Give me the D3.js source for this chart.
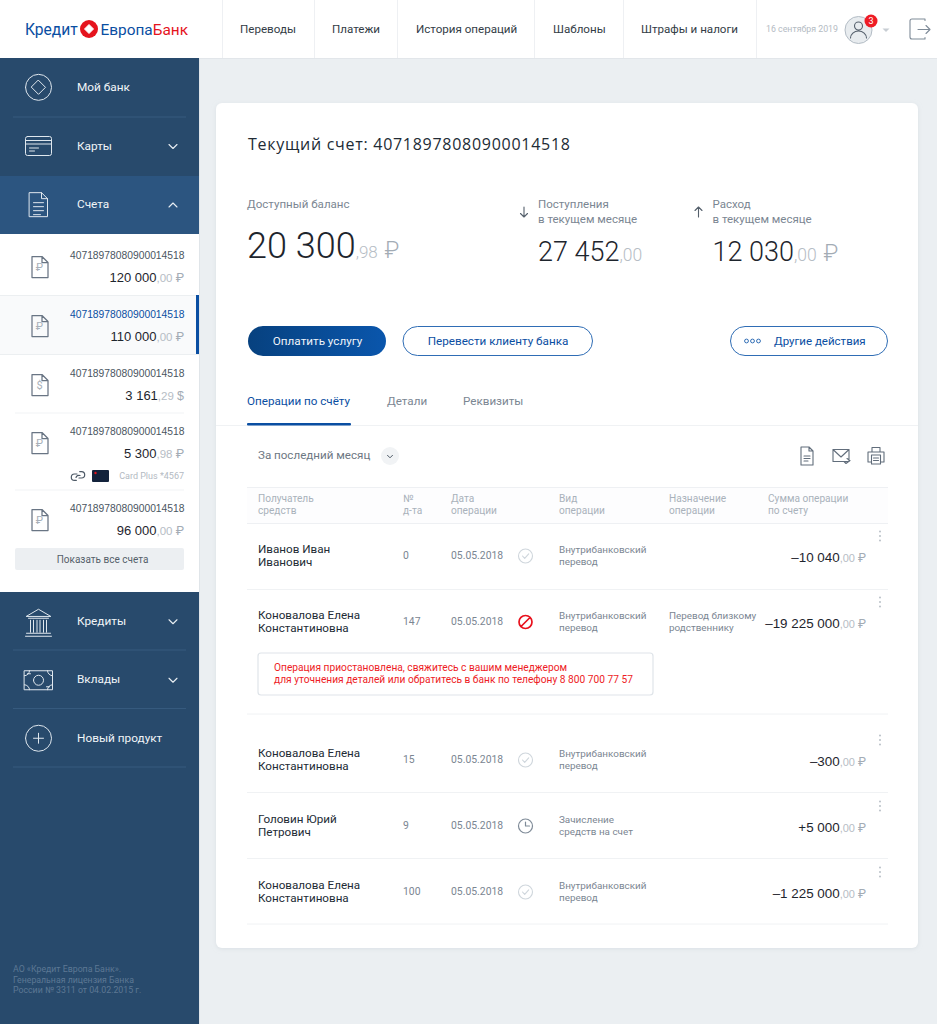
<!DOCTYPE html>
<html lang="ru">
<head>
<meta charset="utf-8">
<title>Кредит Европа Банк</title>
<script src="https://cdn.jsdelivr.net/npm/d3@7"></script>
<style>
  html, body { margin: 0; padding: 0; background: #ebeff2; overflow: hidden; }
  svg { display: block; font-family: Roboto, "Liberation Sans", sans-serif; }
  .num { font-family: "Liberation Sans", Roboto, sans-serif; }
  .big { font-family: Roboto, "Liberation Sans", sans-serif; font-weight: 300; }
</style>
</head>
<body>
<div id="page"></div>
<script>
// Data
const navItems = ["Переводы", "Платежи", "История операций", "Шаблоны", "Штрафы и налоги"];
const menuTop = ["Мой банк", "Карты", "Счета"];
const menuBottom = ["Кредиты", "Вклады", "Новый продукт"];
const accountNumbers = ["40718978080900014518", "40718978080900014518", "40718978080900014518", "40718978080900014518", "40718978080900014518"];
const accountBalances = [120000.00, 110000.00, 3161.29, 5300.98, 96000.00];
const accountCurrency = ["₽", "₽", "$", "₽", "₽"];
const summaryLabels = [["Поступления", "в текущем месяце"], ["Расход", "в текущем месяце"]];
const summaryValues = [27452.00, 12030.00];
const summaryCurrency = ["", "₽"];
const tabs = ["Операции по счёту", "Детали", "Реквизиты"];
const headerCols = [["Получатель", "средств"], ["№", "д-та"], ["Дата", "операции"], ["Вид", "операции"], ["Назначение", "операции"], ["Сумма операции", "по счету"]];
const opNames = [["Иванов Иван", "Иванович"], ["Коновалова Елена", "Константиновна"], ["Коновалова Елена", "Константиновна"], ["Головин Юрий", "Петрович"], ["Коновалова Елена", "Константиновна"]];
const opDocs = [0, 147, 15, 9, 100];
const opDates = ["05.05.2018", "05.05.2018", "05.05.2018", "05.05.2018", "05.05.2018"];
const opStatus = ["done", "blocked", "done", "pending", "done"];
const opTypes = [["Внутрибанковский", "перевод"], ["Внутрибанковский", "перевод"], ["Внутрибанковский", "перевод"], ["Зачисление", "средств на счет"], ["Внутрибанковский", "перевод"]];
const opPurpose = [[], ["Перевод близкому", "родственнику"], [], [], []];
const opAmounts = [-10040.00, -19225000.00, -300.00, 5000.00, -1225000.00];
const alertLines = ["Операция приостановлена, свяжитесь с вашим менеджером", "для уточнения деталей или обратитесь в банк по телефону 8 800 700 77 57"];
const footerLines = ["АО «Кредит Европа Банк».", "Генеральная лицензия Банка", "России № 3311 от 04.02.2015 г."];

const W = 937, H = 1024;
const COL = { ink: "#222b35", grey: "#7b8692", light: "#a9b2bb", line: "#eef1f3", blue: "#0a4ea2", navy: "#284a6c", navyHi: "#2c5580", icon: "#6c7887", sideLine: "#365a7e" };

const ru = d3.formatLocale({ decimal: ",", thousands: " ", grouping: [3], currency: ["", ""] });
const fmtWhole = ru.format(",d");
const cents = v => d3.format("02d")(Math.round(Math.abs(v) * 100) % 100);

const svg = d3.select("#page").append("svg").attr("width", W).attr("height", H).attr("viewBox", `0 0 ${W} ${H}`);

const defs = svg.append("defs");
const grad = defs.append("linearGradient").attr("id", "btn");
grad.append("stop").attr("offset", "0").attr("stop-color", "#07417f");
grad.append("stop").attr("offset", "1").attr("stop-color", "#0a56ac");
const shadow = defs.append("filter").attr("id", "soft").attr("x", "-5%").attr("y", "-5%").attr("width", "110%").attr("height", "110%");
shadow.append("feDropShadow").attr("dx", 0).attr("dy", 1).attr("stdDeviation", 2).attr("flood-color", "#c9d1d8").attr("flood-opacity", 0.5);

// helpers
function label(g, x, y, str, size, fill, anchor) {
  return g.append("text").attr("x", x).attr("y", y - 0.7).attr("font-size", size).attr("fill", fill)
    .attr("text-anchor", anchor || "start").attr("dominant-baseline", "central").text(str);
}
function lines2(g, x, y, arr, gap, size, fill) {
  arr.forEach((s, i) => label(g, x, y + (i - (arr.length - 1) / 2) * gap, s, size, fill));
}
function hline(g, x1, x2, y, color, w) {
  g.append("line").attr("x1", x1).attr("x2", x2).attr("y1", y).attr("y2", y).attr("stroke", color).attr("stroke-width", w || 1);
}
function rect(g, x, y, w, h, fill, r) {
  return g.append("rect").attr("x", x).attr("y", y).attr("width", w).attr("height", h).attr("fill", fill).attr("rx", r || 0);
}
// outline icon drawn in a local box centred on cx, cy
function icon(g, cx, cy, d, color, w) {
  return g.append("g").attr("transform", `translate(${cx},${cy})`).append("path").attr("d", d)
    .attr("fill", "none").attr("stroke", color).attr("stroke-width", w || 1).attr("stroke-linecap", "round").attr("stroke-linejoin", "round");
}
function money(g, x, y, value, currency, sizes, anchor, sign) {
  const t = g.append("text").attr("class", sizes[0] >= 20 ? "big" : "num").attr("x", x).attr("y", y).attr("text-anchor", anchor || "end");
  t.append("tspan").attr("font-size", sizes[0]).attr("fill", "#1e252d").text((sign || "") + fmtWhole(Math.floor(Math.abs(value))));
  t.append("tspan").attr("font-size", sizes[1]).attr("fill", "#b6bdc5").text("," + cents(value) + " ");
  t.append("tspan").attr("font-size", sizes[2]).attr("fill", "#a3acb5").attr("dx", sizes[0] >= 20 ? 2.5 : 0).text(currency);
  return t;
}
const chevron = (g, x, y, up) => icon(g, x, y, up ? "M-4,2L0,-2L4,2" : "M-4,-2L0,2L4,-2", "#e8eef3", 1.1);

const ICONS = {
  diamond: "M-13,0a13,13 0 1,0 26,0a13,13 0 1,0 -26,0M0,-7L7,0L0,7L-7,0Z",
  card: "M-11,-9.5h22a2,2 0 0,1 2,2v15a2,2 0 0,1 -2,2h-22a2,2 0 0,1 -2,-2v-15a2,2 0 0,1 2,-2ZM-13,-5.5h26M-13,-2h26M-9,2h9M-9,5h5",
  doc: "M-9,-12h12l6,6v18h-18ZM3,-12v6h6M-5,-2h10M-5,2h10M-5,6h10M-5,10h7",
  bank: "M-12,-5L0,-12L12,-5ZM-10,-3h20M-8,-1v12M-5,-1v12M-1.5,-1v12M1.5,-1v12M5,-1v12M8,-1v12M-12,12h24M-13,15h26",
  money: "M-14,-9h28v19h-28ZM-9,-9a5,5 0 0,1 -5,5M9,-9a5,5 0 0,0 5,5M-9,10a5,5 0 0,0 -5,-5M9,10a5,5 0 0,1 5,-5M-5,0.5a5,5 0 1,0 10,0a5,5 0 1,0 -10,0M-11,-6h3M8,7h3",
  plus: "M-13,0a13,13 0 1,0 26,0a13,13 0 1,0 -26,0M-5,0h10M0,-5v10",
  file: "M-8,-10.5h10l6,6v15h-16ZM2,-10.5v6h6",
  fileDoc: "M-6,-9h8l4,4v14h-12ZM2,-9v4h4M-3,0h6M-3,2.5h6M-3,5h4",
  mail: "M-8,-6.5h16v12h-16ZM-8,-6.5L0,1L8,-6.5M3,5.5l2,2l4,-3l-3,-2",
  print: "M-4,-4v-4.5h8v4.5M-8,-4h16v10h-3M-8,-4v10h3M-4.5,-1h9v9h-9ZM-2.5,2h5M-2.5,4.5h5",
  link: "M-1,-2h-2.5a3.2,3.2 0 0,0 0,6.4h1.8M1,2h2.5a3.2,3.2 0 0,0 0,-6.4h-1.8M-2,1.5a3,3 0 0,1 4,-2",
  logout: "M7,-9v-1.5h-13a2,2 0 0,0 -2,2v16a2,2 0 0,0 2,2h13v-1.5M0,0h12M8,-4l4,4l-4,4",
  down: "M0,-5v10M-3.5,1.5L0,5L3.5,1.5",
  up: "M0,5v-10M-3.5,-1.5L0,-5L3.5,-1.5",
  done: "M-7,0a7,7 0 1,0 14,0a7,7 0 1,0 -14,0M-3,0l2.2,2.4l4,-4.6",
  pending: "M-7,0a7,7 0 1,0 14,0a7,7 0 1,0 -14,0M0,-4v4h4",
  blocked: "M-6.5,0a6.5,6.5 0 1,0 13,0a6.5,6.5 0 1,0 -13,0M-4.5,4.5L4.5,-4.5"
};

// -------- header --------
const head = svg.append("g");
rect(head, 0, 0, W, 58, "#fff");
hline(head, 0, W, 58.5, "#e2e6ea");
const logoT = head.append("text").attr("x", 25).attr("y", 35).attr("font-size", 15.6).attr("font-family", "Roboto");
logoT.append("tspan").attr("fill", "#0a4ea2").text("Кредит");
head.append("circle").attr("cx", 89).attr("cy", 29).attr("r", 9).attr("fill", "#e5131d");
head.append("path").attr("d", "M89,24.5L93.5,29L89,33.5L84.5,29Z").attr("fill", "#fff").attr("stroke", "#fff").attr("stroke-linejoin", "round");
const logoT2 = head.append("text").attr("x", 100.5).attr("y", 35).attr("font-size", 15.4);
logoT2.append("tspan").attr("fill", "#0a4ea2").text("Европа");
logoT2.append("tspan").attr("fill", "#e5131d").text("Банк");

const navX = d3.scaleOrdinal().domain(navItems).range([240, 332, 416, 553, 641]);
const navSep = [222, 314, 397, 534, 623, 756];
head.selectAll(".sep").data(navSep).join("line").attr("class", "sep")
  .attr("x1", d => d + 0.5).attr("x2", d => d + 0.5).attr("y1", 0).attr("y2", 58).attr("stroke", "#eef0f3");
head.selectAll(".nav").data(navItems).join("text").attr("class", "nav")
  .attr("x", d => navX(d)).attr("y", 28.5).attr("dominant-baseline", "central")
  .attr("font-size", 11.6).attr("fill", "#333c46").text(d => d);
label(head, 766, 30, "16 сентября 2019", 8.8, "#b4bbc3");
head.append("circle").attr("cx", 858.5).attr("cy", 30).attr("r", 13.5).attr("fill", "#e8ecef").attr("stroke", "#b3bcc5");
icon(head, 858.5, 30, "M-4,-4a4,4 0 1,0 8,0a4,4 0 1,0 -8,0M-8,8a8,7 0 0,1 16,0", "#56616d", 1.1);
head.append("circle").attr("cx", 871).attr("cy", 21).attr("r", 6.5).attr("fill", "#ee1c25");
label(head, 871, 21.7, "3", 9, "#fff", "middle");
head.append("path").attr("d", "M882.5,28.5h7l-3.5,3.5Z").attr("fill", "#c7cdd3");
icon(head, 918, 29.5, ICONS.logout, "#7f8b98", 1.1);

// -------- sidebar --------
const side = svg.append("g");
rect(side, 0, 58, 199, H - 58, COL.navy);
rect(side, 0, 176, 199, 58, COL.navyHi);
const topY = d3.scaleBand().domain(menuTop).range([58, 234]);
const topIcon = [ICONS.diamond, ICONS.card, ICONS.doc];
menuTop.forEach((m, i) => {
  const y = topY(m) + topY.bandwidth() / 2 + 0.5;
  icon(side, 38.5, y - 0.5, topIcon[i], "#dfe7ee", 1);
  label(side, 77, y, m, 11.8, "#f1f5f8");
});
chevron(side, 173, 146.5, false);
chevron(side, 173, 205, true);
hline(side, 13, 186, 117, COL.sideLine);

const bottomY = d3.scaleBand().domain(menuBottom).range([592, 767.5]);
const bottomIcon = [ICONS.bank, ICONS.money, ICONS.plus];
menuBottom.forEach((m, i) => {
  const y = bottomY(m) + bottomY.bandwidth() / 2;
  icon(side, 38.5, y, bottomIcon[i], "#dfe7ee", 1);
  label(side, 77, y, m, 11.8, "#f1f5f8");
  hline(side, 13, 186, bottomY(m) + bottomY.bandwidth() - 0.5, COL.sideLine);
  if (i < 2) chevron(side, 173, y + 0.5, false);
});
footerLines.forEach((s, i) => label(side, 13, 969.7 + i * 10.5, s, 8.75, "#5d7894"));

// account list
const list = svg.append("g");
rect(list, 0, 234, 199, 358, "#fff");
const rowTop = d3.scaleOrdinal().domain(d3.range(accountNumbers.length)).range([234, 296, 355, 413, 490]);
rect(list, 0, 296, 199, 58, "#f9fafb");
hline(list, 0, 199, 295.5, "#eceff1");
hline(list, 0, 199, 354.5, "#eceff1");
rect(list, 196, 295, 3, 59, COL.blue);
hline(list, 15, 184, 413, "#f1f3f5");
hline(list, 15, 184, 490, "#f1f3f5");
accountNumbers.forEach((n, i) => {
  const t = rowTop(i);
  const g = list.append("g");
  const numY = i === 0 ? 256 : t + 19;
  label(g, 184.5, numY, n, 10.3, i === 1 ? COL.blue : "#4a5561", "end").attr("class", "num");
  money(g, 184, numY + 25.5, accountBalances[i], accountCurrency[i], [13, 11.5, 12.5]);
  const iy = numY + 11;
  icon(g, 40, iy, ICONS.file, "#697584", 1.25);
  label(g, 39.5, iy + 1, accountCurrency[i], 11, "#a8b0b9", "middle");
});
icon(list, 78, 476, ICONS.link, "#4d5966", 1.2);
rect(list, 92, 470, 17, 12, "#13233c", 1);
list.append("circle").attr("cx", 95.5).attr("cy", 473).attr("r", 1.2).attr("fill", "#e5131d");
label(list, 184, 476.5, "Card Plus *4567", 9, "#b3bac2", "end");
rect(list, 15, 548, 169, 22, "#eceff2", 2);
label(list, 102.5, 560, "Показать все счета", 10, "#555f6a", "middle");
rect(list, 199, 58, 1, H - 58, "#e0e5e9");

// -------- main card --------
const card = svg.append("g");
rect(card, 216, 103, 702, 845, "#fff", 6).attr("filter", "url(#soft)");
label(card, 248, 144.5, "Текущий счет: 40718978080900014518", 16, "#222b35").attr("font-family", "Open Sans").attr("letter-spacing", 0.72);
label(card, 247, 204.5, "Доступный баланс", 11.55, COL.grey);
money(card, 247, 258, 20300.98, "₽", [36, 17, 23], "start");

const sumX = d3.scaleOrdinal().domain([0, 1]).range([538, 712.5]);
const sumIcon = [ICONS.down, ICONS.up];
summaryLabels.forEach((l, i) => {
  lines2(card, sumX(i), 212, l, 14.5, 11.5, COL.grey);
  icon(card, sumX(i) - 14, 212, sumIcon[i], "#55606c", 1.1);
  money(card, sumX(i), 261, summaryValues[i], summaryCurrency[i], [27, 17.5, 23], "start");
});

// buttons
rect(card, 248, 326, 138, 30, "url(#btn)", 15);
label(card, 317.5, 341.5, "Оплатить услугу", 11.7, "#eef3f9", "middle");
rect(card, 403, 326.5, 189.5, 29, "#fff", 14.5).attr("stroke", "#2f6db5");
label(card, 498, 341.5, "Перевести клиенту банка", 11.7, COL.blue, "middle");
rect(card, 730.5, 326.5, 157, 29, "#fff", 14.5).attr("stroke", "#2f6db5");
label(card, 774, 341.5, "Другие действия", 11.5, COL.blue);
card.selectAll(".dot").data([0, 1, 2]).join("circle").attr("class", "dot")
  .attr("cx", d => 746.5 + d * 6).attr("cy", 341).attr("r", 1.9).attr("fill", "none").attr("stroke", "#2f6db5");

// tabs
const tabX = d3.scaleOrdinal().domain(tabs).range([247, 387, 463]);
tabs.forEach((t, i) => label(card, tabX(t), 402, t, 11.65, i === 0 ? COL.blue : COL.grey));
hline(card, 216, 918, 425.5, "#f0f2f4");
rect(card, 247, 423, 104, 2.5, COL.blue, 1);

// filter row
label(card, 258, 456, "За последний месяц", 11.6, "#6d7783");
card.append("circle").attr("cx", 390).attr("cy", 456).attr("r", 9).attr("fill", "#f1f3f5");
icon(card, 390, 456.5, "M-2.5,-1.2L0,1.3L2.5,-1.2", "#4d5966", 1);
icon(card, 807, 456, ICONS.fileDoc, "#616d7b", 1.1);
icon(card, 841, 456, ICONS.mail, "#616d7b", 1.1);
icon(card, 876, 456, ICONS.print, "#616d7b", 1.1);

// table
const colX = d3.scaleOrdinal().domain(d3.range(6)).range([258, 403, 451, 559, 669, 768]);
rect(card, 247, 488, 641, 35, "#fdfdfe");
hline(card, 247, 888, 487.5, "#eef0f3");
hline(card, 247, 888, 523.5, "#eef0f3");
headerCols.forEach((c, i) => lines2(card, colX(i), 505.5, c, 12, 10.15, COL.light));

const rowY = d3.scaleOrdinal().domain(d3.range(opNames.length)).range([556, 622, 760, 826, 892]);
const rowLine = [589.5, 714, 792.5, 858.5, 924];
rowLine.forEach(y => hline(card, 247, 888, y, "#f0f2f4"));
const statusColor = { done: "#cfd6dc", pending: "#7f8b98", blocked: "#e8101c" };
const statusWidth = { done: 1.1, pending: 1.2, blocked: 1.7 };

const rows = card.selectAll(".op").data(opNames).join("g").attr("class", "op");
rows.each(function (d, i) {
  const g = d3.select(this);
  const y = rowY(i);
  lines2(g, colX(0), y, d, 13, 11.65, "#222b35");
  label(g, colX(1), y, opDocs[i], 10.4, COL.grey);
  label(g, colX(2), y, opDates[i], 10.4, COL.grey);
  icon(g, 525.5, y, ICONS[opStatus[i]], statusColor[opStatus[i]], statusWidth[opStatus[i]]);
  lines2(g, colX(3), y, opTypes[i], 12, 9.9, COL.grey);
  lines2(g, colX(4), y, opPurpose[i], 12, 9.9, COL.grey);
  money(g, 866, y + 6, opAmounts[i], "₽", [13.4, 11, 12], "end", opAmounts[i] < 0 ? "–" : "+");
  g.selectAll("circle").data([-4.5, 0, 4.5]).join("circle")
    .attr("cx", 880).attr("cy", v => y - 20 + v).attr("r", 1).attr("fill", "#b9c0c7");
});

// alert under the blocked row
rect(card, 258, 653, 395, 42, "#fff", 3).attr("stroke", "#dfe4e9").attr("stroke-width", 1.2);
alertLines.forEach((s, i) => label(card, 274, 668 + i * 12.5, s, 10.2, "#ee1c25"));
</script>
</body>
</html>
